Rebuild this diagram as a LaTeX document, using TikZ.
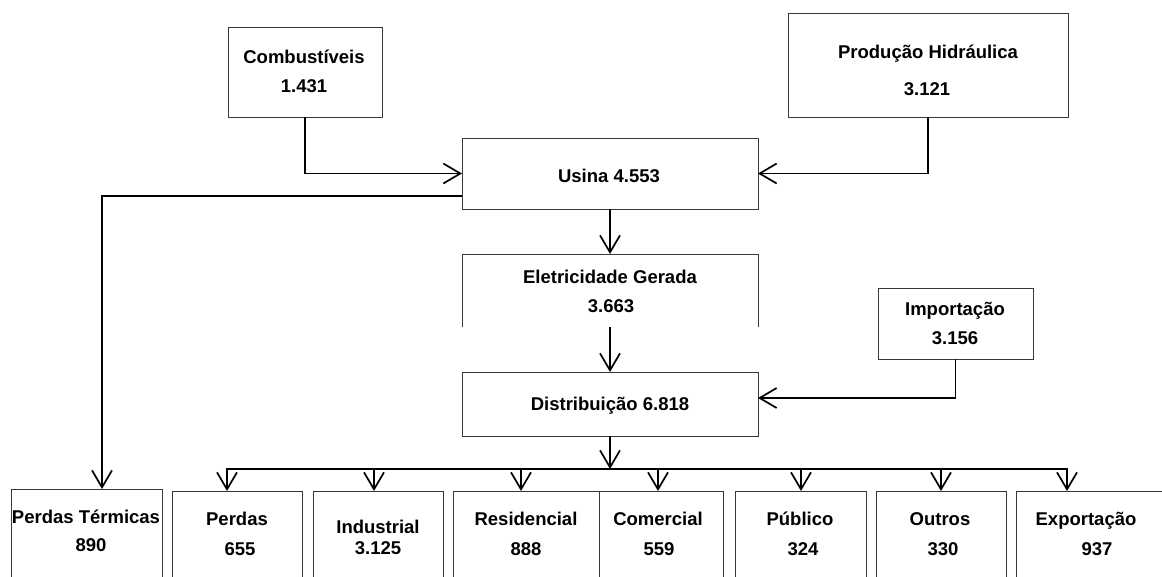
\documentclass[tikz,border=0pt]{standalone}
\usepackage{fontspec}
\setmainfont{Liberation Sans}
\usetikzlibrary{arrows.meta,calc}
\begin{document}
\begin{tikzpicture}[x=1pt,y=-1pt,
  boxline/.style={draw=black!78, line width=1pt},
  box/.style={boxline, inner sep=0pt, outer sep=0pt},
  frame/.style={inner sep=0pt, outer sep=0pt},
  txt/.style={font=\fontsize{18.5}{22}\selectfont\bfseries, inner sep=0pt,
              text height=13.2pt, text depth=0pt},
  flow/.style={line width=1.7pt, -{Straight Barb[length=17pt,width=20pt]}},
  bus/.style={line width=1.7pt}]
\useasboundingbox (0,0) rectangle (1162,576);

% closed boxes
\node[box, minimum width=154pt, minimum height=90pt]  (comb)  at (305,72)    {};
\node[box, minimum width=280pt, minimum height=104pt] (prod)  at (928,65)    {};
\node[box, minimum width=296pt, minimum height=71pt]  (usina) at (610,173.5) {};
\node[box, minimum width=155pt, minimum height=71pt]  (imp)   at (955.5,323.5) {};
\node[box, minimum width=296pt, minimum height=64pt]  (dist)  at (610,404)   {};

% boxes drawn without a bottom edge
\node[frame, minimum width=296pt, minimum height=73pt] (eletr)  at (610,290.5) {};
\node[frame, minimum width=151pt, minimum height=91pt] (ptherm) at (86.5,534.5) {};
\node[frame, minimum width=130pt, minimum height=89pt] (perdas) at (237,535.5) {};
\node[frame, minimum width=130pt, minimum height=89pt] (indus)  at (378,535.5) {};
\node[frame, minimum width=146pt, minimum height=89pt] (resid)  at (526,535.5) {};
\node[frame, minimum width=124pt, minimum height=89pt] (comer)  at (661,535.5) {};
\node[frame, minimum width=131pt, minimum height=89pt] (publ)   at (800.5,535.5) {};
\node[frame, minimum width=130pt, minimum height=89pt] (outros) at (941,535.5) {};
\node[frame, minimum width=154pt, minimum height=89pt] (export) at (1093,535.5) {};
\foreach \n in {eletr,ptherm,perdas,indus,resid,comer,publ,outros,export}
  \draw[boxline] (\n.south west) |- (\n.north east) -- (\n.south east);

% labels
\node[txt] (comb-a)   at (304,57)  {Combustíveis};
\node[txt] (comb-b)   at (304,86)  {1.431};
\node[txt] (prod-a)   at (928,52)  {Produção Hidráulica};
\node[txt] (prod-b)   at (927,89)  {3.121};
\node[txt] (usina-a)  at (609,176) {Usina 4.553};
\node[txt] (eletr-a)  at (610,277) {Eletricidade Gerada};
\node[txt] (eletr-b)  at (611,306) {3.663};
\node[txt] (imp-a)    at (955,309) {Importação};
\node[txt] (imp-b)    at (955,338) {3.156};
\node[txt] (dist-a)   at (610,404) {Distribuição 6.818};
\node[txt] (ptherm-a) at (86,517)  {Perdas Térmicas};
\node[txt] (ptherm-b) at (91,545)  {890};
\node[txt] (perdas-a) at (237,519) {Perdas};
\node[txt] (perdas-b) at (240,549) {655};
\node[txt] (indus-a)  at (378,527) {Industrial};
\node[txt] (indus-b)  at (378,548) {3.125};
\node[txt] (resid-a)  at (526,519) {Residencial};
\node[txt] (resid-b)  at (526,549) {888};
\node[txt] (comer-a)  at (658,519) {Comercial};
\node[txt] (comer-b)  at (659,549) {559};
\node[txt] (publ-a)   at (800,519) {Público};
\node[txt] (publ-b)   at (803,549) {324};
\node[txt] (outros-a) at (940,519) {Outros};
\node[txt] (outros-b) at (943,549) {330};
\node[txt] (export-a) at (1086,519) {Exportação};
\node[txt] (export-b) at (1097,549) {937};

% flows into and out of the plant
\draw[flow] (comb.south) |- (usina.west);
\draw[flow] (prod.south) |- (usina.east);
\draw[flow] ($(usina.west)+(0,22.5)$) -| ($(ptherm.north)+(15.5,0)$);
\draw[flow] (usina.south) -- (eletr.north);
\draw[flow] (eletr.south) -- (dist.north);
\draw[flow] (imp.south) |- ($(dist.east)+(0,-6)$);

% distribution bus
\coordinate (hub) at (610,469);
\coordinate (b1) at (227,469);
\coordinate (b2) at (374,469);
\coordinate (b3) at (521,469);
\coordinate (b4) at (658,469);
\coordinate (b5) at (801,469);
\coordinate (b6) at (941,469);
\coordinate (b7) at (1067,469);
\draw[flow] (dist.south) -- (hub);
\draw[flow] (hub) -| (b1 |- perdas.north);
\draw[flow] (hub) -| (b7 |- export.north);
\foreach \c/\n in {b2/indus,b3/resid,b4/comer,b5/publ,b6/outros}
  \draw[flow] (\c) -- (\c |- \n.north);
\end{tikzpicture}
\end{document}
